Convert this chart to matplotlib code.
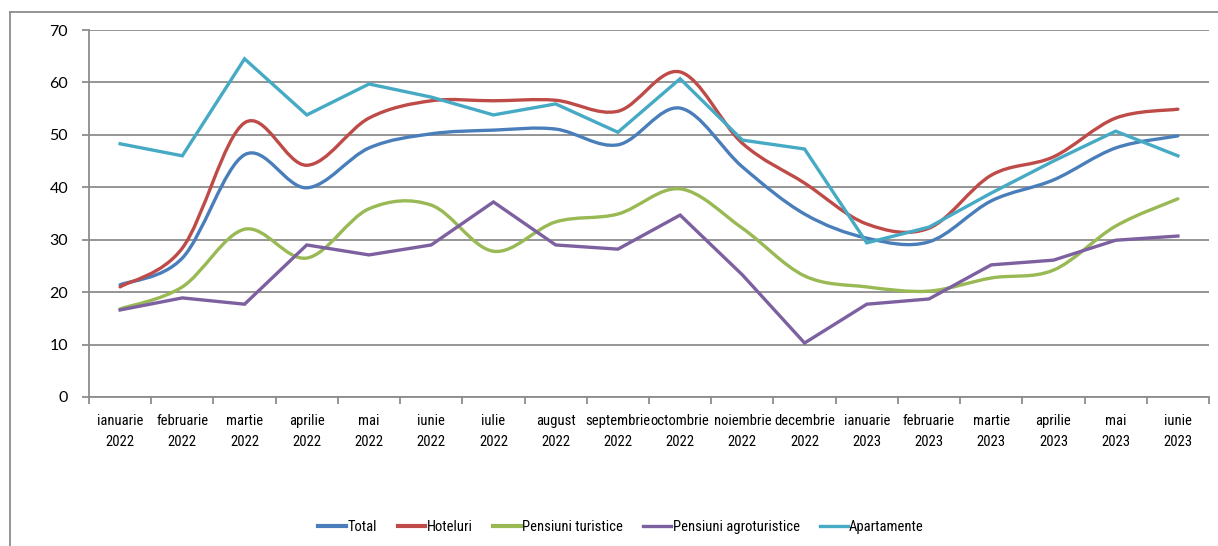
import numpy as np
import matplotlib
matplotlib.use("Agg")
from matplotlib import pyplot as plt
from matplotlib.path import Path
from matplotlib.patches import PathPatch
from matplotlib.lines import Line2D
from matplotlib.ticker import FixedLocator, MultipleLocator

months = ["ianuarie\n2022", "februarie\n2022", "martie\n2022", "aprilie\n2022", "mai\n2022",
          "iunie\n2022", "iulie\n2022", "august\n2022", "septembrie\n2022", "octombrie\n2022",
          "noiembrie\n2022", "decembrie\n2022", "ianuarie\n2023", "februarie\n2023",
          "martie\n2023", "aprilie\n2023", "mai\n2023", "iunie\n2023"]

total = [21.4, 26.5, 46.2, 39.9, 47.5, 50.2, 50.9, 51.1, 48.1, 55.1, 43.9, 34.9, 30.3, 29.6, 37.4, 41.4, 47.5, 49.8]
hoteluri = [21.0, 28.4, 52.3, 44.2, 53.2, 56.5, 56.5, 56.6, 54.5, 62.0, 48.4, 40.8, 33.0, 32.2, 42.3, 45.8, 53.2, 54.9]
pens_turistice = [16.8, 21.0, 32.0, 26.5, 35.9, 36.6, 27.8, 33.4, 34.9, 39.7, 32.2, 23.1, 21.0, 20.2, 22.7, 24.2, 32.6, 37.8]
pens_agro = [16.6, 18.9, 17.7, 29.0, 27.1, 29.0, 37.2, 29.0, 28.2, 34.7, 23.3, 10.3, 17.7, 18.7, 25.2, 26.1, 29.9, 30.7]
apartamente = [48.3, 46.0, 64.5, 53.8, 59.7, 57.2, 53.8, 55.9, 50.5, 60.7, 49.0, 47.3, 29.4, 32.4, 38.9, 45.0, 50.7, 46.0]

series = [
    ("Total", total, "#4a7ebb", True),
    ("Hoteluri", hoteluri, "#be4b48", True),
    ("Pensiuni turistice", pens_turistice, "#98b954", True),
    ("Pensiuni agroturistice", pens_agro, "#7d60a0", False),
    ("Apartamente", apartamente, "#46aac5", False),
]

narrow = ["Liberation Sans Narrow", "Roboto Condensed", "DejaVu Sans"]


def smooth_path(x, y):
    # bezier segments like excel's smoothed lines
    p = np.column_stack([x, y]).astype(float)
    n = len(p)
    verts = [p[0]]
    codes = [Path.MOVETO]
    for i in range(n - 1):
        p0 = p[i - 1] if i > 0 else p[i]
        p3 = p[i + 2] if i + 2 < n else p[i + 1]
        c1 = p[i] + (p[i + 1] - p0) / 6.0
        c2 = p[i + 1] - (p3 - p[i]) / 6.0
        verts += [c1, c2, p[i + 1]]
        codes += [Path.CURVE4] * 3
    return Path(verts, codes)


fig = plt.figure(figsize=(12.18, 5.46), dpi=100)
ax = fig.add_axes([89 / 1218, 1 - 397 / 546, 1120 / 1218, 367 / 546])

x = np.arange(len(months))
for name, vals, col, smooth in series:
    if smooth:
        ax.add_patch(PathPatch(smooth_path(x, vals), fill=False, edgecolor=col, lw=2.4,
                               capstyle="round", joinstyle="round", zorder=3))
        ax.plot([], [], color=col, lw=3, label=name)
    else:
        ax.plot(x, vals, color=col, lw=2.4, label=name, solid_joinstyle="miter", zorder=3)

ax.set_xlim(-0.5, len(months) - 0.5)
ax.set_ylim(0, 70)
ax.yaxis.set_major_locator(MultipleLocator(10))
ax.grid(axis="y", color="#8c8c8c", lw=1.3)
ax.set_axisbelow(True)

ax.xaxis.set_major_locator(FixedLocator(np.arange(-0.5, len(months), 1.0)))
ax.xaxis.set_minor_locator(FixedLocator(x))
ax.set_xticklabels([])
ax.set_xticklabels(months, minor=True, fontfamily=narrow, fontstretch="condensed",
                   fontsize=10.5, linespacing=1.65)
ax.tick_params(axis="x", which="minor", length=0, pad=12)
ax.tick_params(axis="x", which="major", length=5, color="#8c8c8c", width=1.3)
ax.tick_params(axis="y", length=5, color="#8c8c8c", width=1.3, labelsize=11.5, pad=10)
for lab in ax.get_yticklabels():
    lab.set_fontfamily(["Lato", "DejaVu Sans"])

for s in ["top", "right"]:
    ax.spines[s].set_visible(False)
for s in ["left", "bottom"]:
    ax.spines[s].set_color("#8c8c8c")
    ax.spines[s].set_linewidth(1.3)

leg = fig.legend(loc="center", bbox_to_anchor=(0.51, 1 - 527 / 546), ncol=5, frameon=False,
                 handlelength=1.9, handletextpad=0.1, columnspacing=1.4,
                 prop={"family": narrow, "stretch": "condensed", "size": 10.5})

# outer chart frame
fig.add_artist(Line2D([10 / 1218, 10 / 1218], [0, 1 - 12 / 546], color="#8c8c8c", lw=1.3))
fig.add_artist(Line2D([10 / 1218, 1], [1 - 12 / 546, 1 - 12 / 546], color="#8c8c8c", lw=1.3))

fig.savefig("out.png", dpi=100)
